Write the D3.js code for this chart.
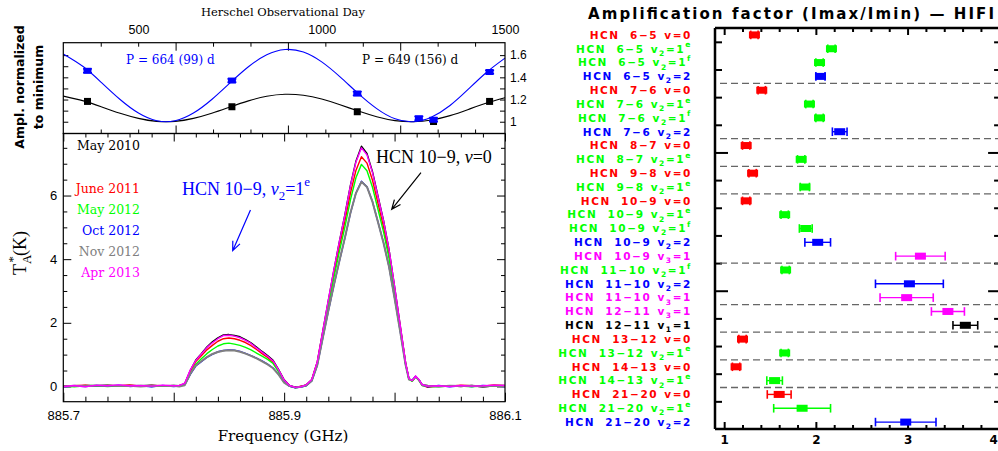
<!DOCTYPE html>
<html>
<head>
<meta charset="utf-8">
<script src="https://cdn.jsdelivr.net/npm/d3@7/dist/d3.min.js"></script>
<style>
  body { margin: 0; background: #fff; }
  svg { display: block; }
</style>
</head>
<body>
<svg id="chart" width="998" height="451"></svg>
<script>
// ---- top-left: amplitude normalised to minimum vs Herschel day ----
const blueDays = [361, 755, 1097, 1265, 1305, 1458];
const blueAmp = [1.459, 1.371, 1.254, 1.031, 1.018, 1.448];
const blueErr = [0.017, 0.015, 0.017, 0.017, 0.016, 0.015];
const blackDays = [361, 755, 1097, 1305, 1458];
const blackAmp = [1.183, 1.135, 1.090, 1.002, 1.183];
const fitDays = [295, 350, 400, 450, 500, 550, 600, 650, 700, 750, 800, 850, 900,
  950, 1000, 1050, 1100, 1150, 1200, 1250, 1300, 1350, 1400, 1450, 1500];
const fitBlue = [1.611, 1.495, 1.350, 1.200, 1.078, 1.009, 1.009, 1.078, 1.200, 1.350, 1.495, 1.603, 1.651,
  1.628, 1.539, 1.404, 1.253, 1.118, 1.026, 1.000, 1.043, 1.146, 1.293, 1.446, 1.573];
const fitBlack = [1.231, 1.188, 1.133, 1.076, 1.030, 1.003, 1.003, 1.030, 1.076, 1.133, 1.188, 1.229, 1.247,
  1.238, 1.204, 1.153, 1.096, 1.045, 1.010, 1.000, 1.016, 1.055, 1.111, 1.169, 1.217];
const dayTicks = [500, 1000, 1500];
const ampTicks = [1, 1.2, 1.4, 1.6];

// ---- bottom-left: HCN 10-9 spectra ----
const freq = [885.700, 885.710, 885.720, 885.730, 885.740, 885.750, 885.760, 885.770, 885.780, 885.790,
  885.800, 885.805, 885.810, 885.815, 885.820, 885.825, 885.830, 885.835, 885.840, 885.845,
  885.850, 885.855, 885.860, 885.865, 885.870, 885.875, 885.880, 885.885, 885.890, 885.895,
  885.900, 885.905, 885.910, 885.915, 885.920, 885.925, 885.930, 885.935, 885.940, 885.945,
  885.950, 885.955, 885.960, 885.965, 885.970, 885.975, 885.980, 885.985, 885.990, 885.995,
  886.000, 886.005, 886.010, 886.013, 886.016, 886.019, 886.022, 886.025, 886.030, 886.040,
  886.050, 886.060, 886.070, 886.080, 886.090, 886.100];
const tMay2010 = [0.02, 0.01, 0.03, 0.02, 0.04, 0.01, 0.03, 0.02, 0.04, 0.01,
  0.03, 0.02, 0.09, 0.50, 0.83, 1.03, 1.24, 1.40, 1.53, 1.62,
  1.63, 1.60, 1.56, 1.47, 1.37, 1.24, 1.10, 0.97, 0.82, 0.53,
  0.21, 0.03, -0.02, 0.00, 0.05, 0.21, 0.77, 1.74, 2.70, 3.65,
  4.55, 5.40, 6.32, 7.08, 7.55, 7.32, 6.75, 5.98, 5.22, 4.30,
  3.14, 1.94, 0.74, 0.24, 0.17, 0.31, 0.21, 0.05, 0.03, 0.01,
  0.02, 0.00, 0.03, -0.02, 0.02, 0.03];
const tJun2011 = [0.01, 0.02, 0.04, 0.01, 0.03, 0.02, 0.05, 0.01, 0.03, 0.02,
  0.01, 0.03, 0.08, 0.48, 0.78, 0.96, 1.15, 1.29, 1.42, 1.50,
  1.52, 1.50, 1.45, 1.38, 1.28, 1.16, 1.03, 0.91, 0.76, 0.49,
  0.18, 0.02, -0.04, 0.01, 0.04, 0.21, 0.75, 1.69, 2.62, 3.53,
  4.39, 5.19, 6.07, 6.79, 7.22, 7.02, 6.48, 5.75, 5.01, 4.15,
  3.04, 1.89, 0.73, 0.24, 0.17, 0.31, 0.20, 0.04, -0.03, 0.02,
  0.01, 0.04, 0.02, 0.01, 0.05, 0.02];
const tMay2012 = [0.01, -0.01, 0.02, 0.03, 0.00, 0.02, 0.01, 0.03, 0.00, 0.02,
  0.01, 0.02, 0.06, 0.40, 0.70, 0.87, 1.03, 1.16, 1.27, 1.34,
  1.36, 1.33, 1.29, 1.23, 1.15, 1.05, 0.95, 0.85, 0.72, 0.46,
  0.17, 0.01, -0.04, -0.02, 0.03, 0.18, 0.70, 1.62, 2.53, 3.41,
  4.24, 5.01, 5.86, 6.56, 6.98, 6.78, 6.26, 5.56, 4.86, 4.02,
  2.95, 1.84, 0.71, 0.23, 0.16, 0.30, 0.20, 0.03, 0.00, -0.01,
  0.02, 0.01, -0.01, 0.02, 0.01, 0.02];
const tOct2012 = [-0.01, 0.01, 0.00, 0.03, 0.01, 0.04, 0.00, 0.02, -0.01, 0.03,
  0.00, 0.01, 0.05, 0.38, 0.64, 0.78, 0.91, 1.01, 1.09, 1.13,
  1.15, 1.14, 1.10, 1.04, 0.97, 0.89, 0.80, 0.70, 0.58, 0.38,
  0.13, 0.00, -0.04, -0.02, 0.02, 0.17, 0.66, 1.52, 2.36, 3.17,
  3.93, 4.66, 5.44, 6.08, 6.45, 6.28, 5.81, 5.17, 4.52, 3.76,
  2.78, 1.75, 0.68, 0.23, 0.20, 0.32, 0.21, 0.05, -0.01, 0.03,
  -0.01, 0.02, 0.00, 0.03, 0.01, 0.00];
const tNov2012 = [0.00, 0.02, 0.01, 0.02, 0.03, 0.01, 0.02, 0.00, 0.02, 0.01,
  0.02, 0.00, 0.04, 0.40, 0.66, 0.79, 0.92, 1.02, 1.08, 1.12,
  1.14, 1.13, 1.09, 1.03, 0.96, 0.88, 0.79, 0.69, 0.57, 0.37,
  0.12, 0.01, -0.03, -0.01, 0.03, 0.18, 0.67, 1.53, 2.38, 3.18,
  3.94, 4.67, 5.45, 6.07, 6.43, 6.27, 5.80, 5.16, 4.51, 3.75,
  2.77, 1.74, 0.67, 0.22, 0.19, 0.30, 0.20, 0.04, 0.01, 0.00,
  0.02, 0.01, 0.02, 0.00, 0.02, 0.01];
const tApr2013 = [0.00, 0.03, -0.01, 0.04, 0.02, 0.05, 0.02, 0.03, 0.01, 0.04,
  0.02, 0.03, 0.10, 0.52, 0.82, 1.02, 1.22, 1.37, 1.50, 1.60,
  1.61, 1.58, 1.53, 1.45, 1.35, 1.21, 1.08, 0.95, 0.80, 0.52,
  0.20, 0.03, -0.03, -0.01, 0.05, 0.22, 0.78, 1.75, 2.72, 3.66,
  4.55, 5.38, 6.30, 7.05, 7.50, 7.28, 6.72, 5.96, 5.20, 4.30,
  3.15, 1.95, 0.75, 0.25, 0.18, 0.33, 0.22, 0.06, 0.01, 0.02,
  0.00, 0.03, 0.01, 0.02, 0.04, 0.03];
const epochs = ["May 2010", "June 2011", "May 2012", "Oct 2012", "Nov 2012", "Apr 2013"];
const epochColors = ["#000000", "#ff0000", "#00ff00", "#0000ff", "#808080", "#ff00ff"];
const freqLabels = [885.7, 885.9, 886.1];
const tempLabels = [0, 2, 4, 6];

// ---- right: amplification factor per line ----
const transitions = ["6−5", "6−5", "6−5", "6−5", "7−6", "7−6", "7−6", "7−6", "8−7", "8−7",
  "9−8", "9−8", "10−9", "10−9", "10−9", "10−9", "10−9", "11−10", "11−10", "11−10",
  "12−11", "12−11", "13−12", "13−12", "14−13", "14−13", "21−20", "21−20", "21−20"];
const states = ["v=0", "v2=1e", "v2=1f", "v2=2", "v=0", "v2=1e", "v2=1f", "v2=2", "v=0", "v2=1e",
  "v=0", "v2=1e", "v=0", "v2=1e", "v2=1f", "v2=2", "v3=1", "v2=1f", "v2=2", "v3=1",
  "v3=1", "v1=1", "v=0", "v2=1e", "v=0", "v2=1e", "v=0", "v2=1e", "v2=2"];
const ampFactor = [1.33, 2.17, 2.04, 2.05, 1.41, 1.93, 2.04, 2.26, 1.24, 1.84,
  1.31, 1.88, 1.24, 1.66, 1.89, 2.02, 3.14, 1.67, 3.02, 2.99,
  3.44, 3.63, 1.20, 1.66, 1.13, 1.55, 1.60, 1.85, 2.98];
const ampFactorErr = [0.04, 0.04, 0.04, 0.05, 0.04, 0.04, 0.04, 0.08, 0.04, 0.04,
  0.04, 0.05, 0.04, 0.04, 0.07, 0.14, 0.27, 0.04, 0.37, 0.29,
  0.18, 0.135, 0.04, 0.04, 0.04, 0.085, 0.13, 0.31, 0.33];
const factorTicks = [1, 2, 3, 4];

const svg = d3.select("#chart");
const SANS = "'Liberation Sans', Arial, sans-serif";
const SERIF = "'DejaVu Serif', serif";
const TIMES = "'Liberation Serif', 'Times New Roman', serif";

function axisG(x, y) {
  return svg.append("g").attr("transform", `translate(${x},${y})`);
}
function tickAxis(g, axis, vals, size, fmt, pad, sw) {
  g.call(axis.tickValues(vals).tickSize(size).tickSizeOuter(0)
    .tickPadding(pad || 3).tickFormat(fmt || (() => "")));
  g.select(".domain").remove();
  g.selectAll("line").attr("stroke", "#000").attr("stroke-width", sw || 1);
  return g;
}
function addRich(text, parts, fs) {
  let cur = 0;
  parts.forEach(p => {
    const off = p.sub ? fs * 0.3 : p.sup ? -fs * 0.5 : 0;
    const ts = text.append("tspan").text(p.t);
    if (off !== cur) ts.attr("dy", off - cur);
    if (p.sub || p.sup) ts.attr("font-size", fs * 0.72);
    if (p.it) ts.attr("font-style", "italic");
    if (p.dx) ts.attr("dx", p.dx);
    cur = off;
  });
}

// ===== left panels =====
const LX0 = 63.3, LX1 = 505, TY0 = 42.7, TY1 = 133.5, BY1 = 401.7;
const xDay = d3.scaleLinear().domain([295, 1500]).range([LX0, LX1]);
const yAmp = d3.scaleLinear().domain([0.894, 1.712]).range([TY1, TY0]);
const xGrid = d3.scaleLinear().domain([0, 3.933]).range([LX0, LX1]);
const xFreq = d3.scaleLinear().domain([885.7, 886.1]).range([LX0, LX1]);
const yT = d3.scaleLinear().domain([-0.48, 7.95]).range([BY1, TY1]);

// top panel
const gridMinor = [1, 2, 4, 5, 7, 8, 10, 11].map(d => d / 3);
tickAxis(axisG(0, TY1), d3.axisBottom(xGrid), gridMinor, -4);
tickAxis(axisG(0, TY1), d3.axisBottom(xGrid), [1, 2, 3], -8);
tickAxis(axisG(0, TY0), d3.axisTop(xGrid), gridMinor, -4);
tickAxis(axisG(0, TY0), d3.axisTop(xGrid), [1, 2, 3], -8);
const ampMinor = d3.range(10, 17).map(d => d / 10);
tickAxis(axisG(LX0, 0), d3.axisLeft(yAmp), ampMinor, -5);
tickAxis(axisG(LX1, 0), d3.axisRight(yAmp), ampMinor, -5);
tickAxis(axisG(LX1, 0), d3.axisRight(yAmp), ampTicks, 0, d3.format("~g"), 5)
  .selectAll("text").attr("font-family", SANS).attr("font-size", 12);
tickAxis(axisG(0, TY0), d3.axisTop(xDay), dayTicks, 0, d3.format("d"), 9)
  .selectAll("text").attr("font-family", SANS).attr("font-size", 12.5);

svg.append("text").attr("x", 283).attr("y", 16).attr("text-anchor", "middle")
  .attr("font-family", SERIF).attr("font-size", 11.5).text("Herschel Observational Day");
svg.append("text").attr("transform", "translate(20,87) rotate(-90)").attr("dy", "0.35em")
  .attr("text-anchor", "middle").attr("font-family", "'DejaVu Sans', sans-serif")
  .attr("font-weight", "bold").attr("font-size", 12.5).text("Ampl. normalized");
svg.append("text").attr("transform", "translate(38.5,87) rotate(-90)").attr("dy", "0.35em")
  .attr("text-anchor", "middle").attr("font-family", "'DejaVu Sans', sans-serif")
  .attr("font-weight", "bold").attr("font-size", 12.5).text("to minimum");

const fitLine = d3.line().curve(d3.curveNatural).x((d, i) => xDay(fitDays[i])).y(d => yAmp(d));
svg.append("path").attr("d", fitLine(fitBlack)).attr("fill", "none").attr("stroke", "#000").attr("stroke-width", 1.1);
svg.append("path").attr("d", fitLine(fitBlue)).attr("fill", "none").attr("stroke", "#0000ff").attr("stroke-width", 1.1);

svg.append("g").selectAll("rect").data(blackAmp).join("rect")
  .attr("x", (d, i) => xDay(blackDays[i]) - 3.5).attr("y", d => yAmp(d) - 3.5)
  .attr("width", 7).attr("height", 7).attr("fill", "#000");
const bp = svg.append("g").attr("stroke", "#0000ff").attr("stroke-width", 1.4);
blueAmp.forEach((v, i) => {
  const x = xDay(blueDays[i]);
  bp.append("line").attr("x1", x).attr("x2", x).attr("y1", yAmp(v - blueErr[i])).attr("y2", yAmp(v + blueErr[i]));
  [v - blueErr[i], v + blueErr[i]].forEach(e =>
    bp.append("line").attr("x1", x - 4.5).attr("x2", x + 4.5).attr("y1", yAmp(e)).attr("y2", yAmp(e)));
  bp.append("rect").attr("x", x - 4).attr("y", yAmp(v) - 3).attr("width", 8).attr("height", 6)
    .attr("fill", "#0000ff").attr("stroke", "none");
});
svg.append("text").attr("x", 126).attr("y", 64).attr("font-family", SERIF).attr("font-size", 12)
  .attr("fill", "#0000ff").text("P = 664 (99) d");
svg.append("text").attr("x", 362).attr("y", 64).attr("font-family", SERIF).attr("font-size", 12)
  .attr("fill", "#000").text("P = 649 (156) d");

svg.append("rect").attr("x", LX0).attr("y", TY0).attr("width", LX1 - LX0).attr("height", TY1 - TY0)
  .attr("fill", "none").attr("stroke", "#000").attr("stroke-width", 1.2);

// bottom panel
const fMinor = d3.range(0, 21).map(d => 885.7 + d * 0.02).filter((d, i) => i % 5 !== 0);
const fMajor = [885.7, 885.8, 885.9, 886.0, 886.1];
tickAxis(axisG(0, BY1), d3.axisBottom(xFreq), fMinor, -5);
tickAxis(axisG(0, BY1), d3.axisBottom(xFreq), fMajor, -9,
  d => freqLabels.some(l => Math.abs(l - d) < 1e-6) ? d3.format(".1f")(d) : "", 9)
  .selectAll("text").attr("font-family", SANS).attr("font-size", 13).attr("fill", "#000");
tickAxis(axisG(0, TY1), d3.axisTop(xFreq), fMinor, -4);
tickAxis(axisG(0, TY1), d3.axisTop(xFreq), fMajor, -8);
const tMinor = d3.range(0, 16).map(d => d / 2).filter(d => d % 2 !== 0);
tickAxis(axisG(LX0, 0), d3.axisLeft(yT), tMinor, -4);
tickAxis(axisG(LX0, 0), d3.axisLeft(yT), tempLabels, -8, d3.format("d"), 6)
  .selectAll("text").attr("font-family", SANS).attr("font-size", 13).attr("fill", "#000");
tickAxis(axisG(LX1, 0), d3.axisRight(yT), tMinor, -4);
tickAxis(axisG(LX1, 0), d3.axisRight(yT), tempLabels, -8);

svg.append("defs").append("clipPath").attr("id", "specClip").append("rect")
  .attr("x", LX0).attr("y", TY1).attr("width", LX1 - LX0).attr("height", BY1 - TY1);
const specLine = d3.line().x((d, i) => xFreq(freq[i])).y(d => yT(d));
const spectra = [tMay2010, tJun2011, tMay2012, tOct2012, tNov2012, tApr2013];
svg.append("g").attr("clip-path", "url(#specClip)").selectAll("path").data(spectra).join("path")
  .attr("d", d => specLine(d)).attr("fill", "none")
  .attr("stroke", (d, i) => epochColors[i])
  .attr("stroke-width", (d, i) => i === 4 ? 2 : 1.4).attr("stroke-linejoin", "round");

const legendY = [149.7, 192.5, 214, 234.5, 255.5, 277];
svg.append("g").selectAll("text").data(epochs).join("text")
  .attr("x", 140).attr("y", (d, i) => legendY[i]).attr("text-anchor", "end")
  .attr("font-family", SERIF).attr("font-size", 12.5).attr("fill", (d, i) => epochColors[i]).text(d => d);

const t1 = svg.append("text").attr("x", 182).attr("y", 195).attr("font-family", TIMES)
  .attr("font-size", 18).attr("fill", "#0000ff");
addRich(t1, [{t: "HCN 10−9, "}, {t: "v", it: true}, {t: "2", sub: true}, {t: "=1"}, {t: "e", sup: true}], 18);
const t2 = svg.append("text").attr("x", 376).attr("y", 163).attr("font-family", TIMES)
  .attr("font-size", 18).attr("fill", "#000");
addRich(t2, [{t: "HCN 10−9, "}, {t: "v", it: true}, {t: "=0"}], 18);

function arrow(f0, T0, f1, T1, color) {
  const x0 = xFreq(f0), y0 = yT(T0), x1 = xFreq(f1), y1 = yT(T1);
  const a = Math.atan2(y1 - y0, x1 - x0), h = 10, w = 0.4;
  const p = d3.path();
  p.moveTo(x0, y0); p.lineTo(x1, y1);
  p.moveTo(x1 - h * Math.cos(a - w), y1 - h * Math.sin(a - w));
  p.lineTo(x1, y1);
  p.lineTo(x1 - h * Math.cos(a + w), y1 - h * Math.sin(a + w));
  svg.append("path").attr("d", p.toString()).attr("fill", "none").attr("stroke", color).attr("stroke-width", 1.2);
}
arrow(885.8695, 5.545, 885.8534, 4.266, "#0000ff");
arrow(886.0239, 6.718, 885.9974, 5.567, "#000");

const yLab = svg.append("text").attr("transform", "translate(26,253) rotate(-90)")
  .attr("text-anchor", "middle").attr("font-family", TIMES).attr("font-size", 18);
addRich(yLab, [{t: "T"}, {t: "A", sub: true}, {t: "*", sup: true, dx: -8}, {t: "(K)"}], 18);

svg.append("text").attr("x", 283).attr("y", 441).attr("text-anchor", "middle")
  .attr("font-family", SERIF).attr("font-size", 15).text("Frequency (GHz)");

svg.append("rect").attr("x", LX0).attr("y", TY1).attr("width", LX1 - LX0).attr("height", BY1 - TY1)
  .attr("fill", "none").attr("stroke", "#000").attr("stroke-width", 1.2);

// ===== right panel =====
const RX0 = 715, RX1 = 1001.1, RY0 = 28, RY1 = 429;
const xF = d3.scaleLinear().domain([0.9, 4.02]).range([RX0, RX1]);
const yRow = d3.scaleLinear().domain([0, 29]).range([RY1, RY0]);
const rowPos = i => 28.5 - i;
const stateColor = s => s === "v=0" ? "#ff0000" : s.startsWith("v2=1") ? "#00ff00"
  : s === "v2=2" ? "#0000ff" : s === "v3=1" ? "#ff00ff" : "#000000";

const rowMinor = [2, 4, 6, 8, 12, 14, 16, 18, 22, 24, 26, 28];
tickAxis(axisG(RX0, 0), d3.axisLeft(yRow), rowMinor, -7, null, 3, 2);
tickAxis(axisG(RX0, 0), d3.axisLeft(yRow), [10, 20], -13, null, 3, 2);
tickAxis(axisG(RX1, 0), d3.axisRight(yRow), rowMinor, -7, null, 3, 2);
tickAxis(axisG(RX1, 0), d3.axisRight(yRow), [10, 20], -13, null, 3, 2);
const xMinor = d3.range(6, 21).map(d => d / 5).filter(d => Math.abs(d - Math.round(d)) > 1e-6);
tickAxis(axisG(0, RY1), d3.axisBottom(xF), xMinor, -4, null, 3, 2);
tickAxis(axisG(0, RY0), d3.axisTop(xF), xMinor, -4, null, 3, 2);
tickAxis(axisG(0, RY0), d3.axisTop(xF), factorTicks, -7, null, 3, 2);
tickAxis(axisG(0, RY1), d3.axisBottom(xF), factorTicks, -7, d3.format("d"), 6.5, 2)
  .selectAll("text").attr("font-family", "'DejaVu Sans', sans-serif").attr("font-weight", "bold")
  .attr("font-size", 12).attr("fill", "#000")
  // last label sits at the window edge: keep it whole
  .filter(d => d === 4).attr("text-anchor", "end").attr("dx", -2);

// separators between transitions
const sep = d3.range(1, transitions.length).filter(i => transitions[i] !== transitions[i - 1]);
svg.append("g").selectAll("line").data(sep).join("line")
  .attr("x1", RX0 + 5).attr("x2", RX1).attr("y1", i => yRow(rowPos(i) + 0.5)).attr("y2", i => yRow(rowPos(i) + 0.5))
  .attr("stroke", "#666").attr("stroke-width", 1.3).attr("stroke-dasharray", "7,4");

// error bars and boxes
const mk = svg.append("g");
ampFactor.forEach((v, i) => {
  const y = yRow(rowPos(i)), c = stateColor(states[i]);
  const lo = xF(v - ampFactorErr[i]), hi = xF(v + ampFactorErr[i]);
  mk.append("line").attr("x1", lo).attr("x2", hi).attr("y1", y).attr("y2", y).attr("stroke", c).attr("stroke-width", 1.4);
  [lo, hi].forEach(x => mk.append("line").attr("x1", x).attr("x2", x).attr("y1", y - 4.3).attr("y2", y + 4.3)
    .attr("stroke", c).attr("stroke-width", 1.6));
  mk.append("rect").attr("x", xF(v) - 5.5).attr("y", y - 3.5).attr("width", 11).attr("height", 7).attr("fill", c);
});

// line labels
function stateParts(s) {
  const m = s.match(/^v(\d)?=(\d)([ef])?$/);
  const parts = [{t: "v", dx: 6}];
  if (m[1]) parts.push({t: m[1], sub: true});
  parts.push({t: "=" + m[2]});
  if (m[3]) parts.push({t: m[3], sup: true});
  return parts;
}
transitions.forEach((tr, i) => {
  const t = svg.append("text").attr("x", 692).attr("y", yRow(rowPos(i)) + 3.8).attr("text-anchor", "end")
    .attr("font-family", "'DejaVu Sans', sans-serif").attr("font-weight", "bold").attr("font-size", 10.5)
    .attr("letter-spacing", 1.6).attr("fill", stateColor(states[i]));
  addRich(t, [{t: "HCN"}, {t: " " + tr, dx: 5}].concat(stateParts(states[i])), 10.5);
});

svg.append("g").attr("stroke", "#000").attr("stroke-width", 2.5).selectAll("line")
  .data([[RX0, RY0, RX0, RY1], [RX0, RY1, RX1, RY1], [RX0, RY0, RX1, RY0], [RX1, RY0, RX1, RY1]])
  .join("line").attr("x1", d => d[0]).attr("y1", d => d[1]).attr("x2", d => d[2]).attr("y2", d => d[3]);

svg.append("text").attr("x", 588).attr("y", 19).attr("textLength", 406).attr("lengthAdjust", "spacing")
  .attr("font-family", "'DejaVu Sans', sans-serif").attr("font-weight", "bold").attr("font-size", 15)
  .text("Amplification factor (Imax/Imin) — HIFI");
</script>
</body>
</html>
